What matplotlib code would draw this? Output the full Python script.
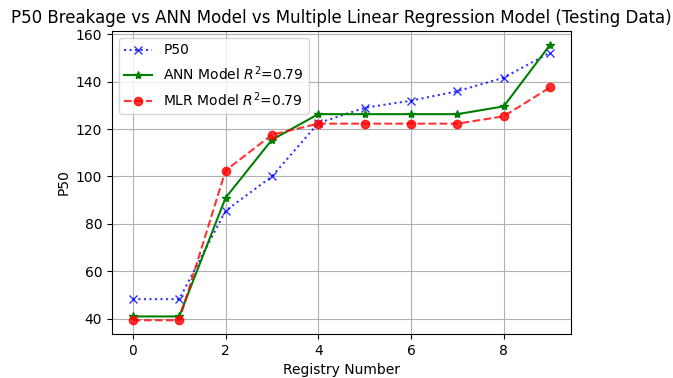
import numpy as np
from matplotlib import pyplot as plt

registry = [0, 1, 2, 3, 4, 5, 6, 7, 8, 9]
p50 = [48.2, 48.2, 85.5, 100.0, 122.5, 129.0, 132.0, 136.0, 141.7, 152.3]
ann = [40.9, 40.9, 91.0, 115.5, 126.3, 126.3, 126.3, 126.3, 129.6, 155.6]
mlr = [39.3, 39.3, 102.5, 117.6, 122.3, 122.3, 122.3, 122.3, 125.4, 137.6]

fig = plt.figure(figsize=(6.73, 3.78), dpi=100)
ax = fig.add_axes([0.1664, 0.1164, 0.682, 0.8016])

ax.plot(registry, p50, 'bx:', alpha=0.8, label='P50')
ax.plot(registry, ann, 'g*-', label='ANN Model $R^2$=0.79')
ax.plot(registry, mlr, 'ro--', alpha=0.8, label='MLR Model $R^2$=0.79')

ax.set_title('P50 Breakage vs ANN Model vs Multiple Linear Regression Model (Testing Data)')
ax.set_xlabel('Registry Number')
ax.set_ylabel('P50')
ax.grid(True)
ax.legend(loc='upper left')

fig.savefig('out.png', dpi=100)
